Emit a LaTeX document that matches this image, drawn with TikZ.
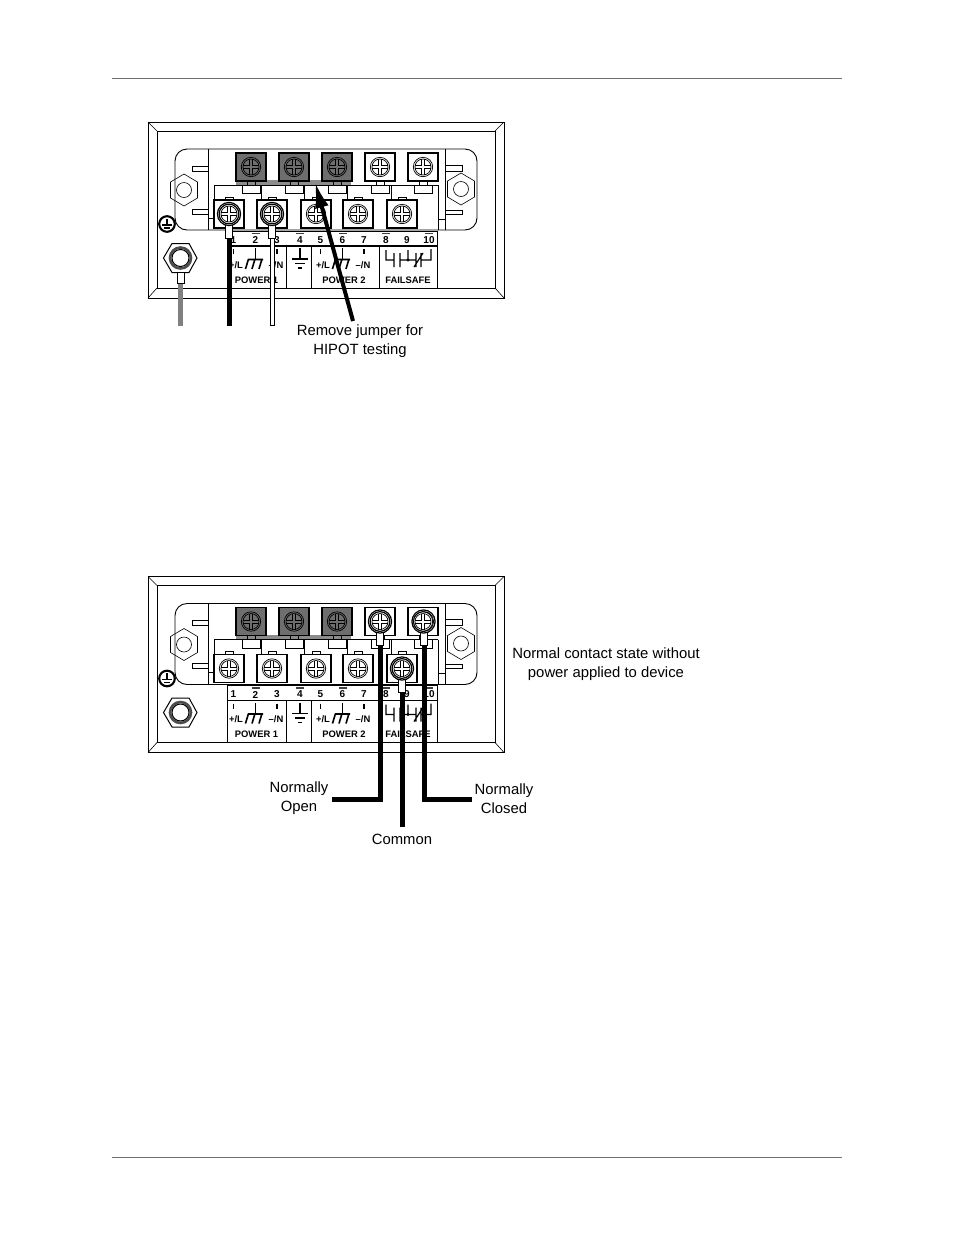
\documentclass[tikz,border=0pt]{standalone}
\usepackage{fontspec}
\setmainfont{Liberation Sans}
\usetikzlibrary{arrows.meta}
\definecolor{RuleGray}{HTML}{707070}
\definecolor{DarkScrew}{HTML}{6e6e6e}
\definecolor{WireGray}{HTML}{808080}
\definecolor{JumperGray}{HTML}{8c8c8c}
\tikzset{x=1pt, y=-1pt, every picture/.style={line width=1pt}}
\tikzstyle{lbl} = [font=\fontsize{14.85}{17}\selectfont, align=center, inner sep=0pt]
\tikzstyle{num} = [font=\fontsize{10}{10}\selectfont\bfseries, inner sep=0pt]
\tikzstyle{tiny} = [font=\fontsize{9.4}{10}\selectfont\bfseries, inner sep=0pt]
\tikzstyle{wire} = [line width=5pt, draw=black]
\tikzstyle{screwbox} = [draw=black, line width=1.1pt, minimum width=30pt, minimum height=28pt, inner sep=0pt]
\tikzstyle{lug} = [draw=black, fill=white, line width=.9pt]
% one screw terminal: name, x, y, fill
\newcommand\screwterm[4]{
\node[screwbox, fill=#4] (#1) at (#2, #3) {};
\draw[line width=.7pt] (#2, #3) circle (9.7) (#2, #3) circle (8);
\draw[line width=.7pt] (#2-8, #3-1.4) -- (#2-1.4, #3-1.4) -- (#2-1.4, #3-8)
  (#2+1.4, #3-8) -- (#2+1.4, #3-1.4) -- (#2+8, #3-1.4)
  (#2+8, #3+1.4) -- (#2+1.4, #3+1.4) -- (#2+1.4, #3+8)
  (#2-1.4, #3+8) -- (#2-1.4, #3+1.4) -- (#2-8, #3+1.4);
}
% ring lug on a screw: x, y
\newcommand\ringlug[2]{
\draw[lug] (#1-3.5, #2+11) -- (#1-3.5, #2+24) -- (#1+3.5, #2+24) -- (#1+3.5, #2+11);
\draw[line width=1.2pt] (#1, #2) circle (11.6);
\draw[line width=.9pt] (#1, #2) circle (10);
}
% the device, drawn at the top panel's coordinates
\newcommand\devicepanel[1]{
\draw (148, 122) rectangle (504, 298);
\draw (157, 131) rectangle (495, 288);
\draw[line width=.6pt] (148, 122) -- (157, 131) (504, 122) -- (495, 131)
  (148, 298) -- (157, 288) (504, 298) -- (495, 288);
\draw[rounded corners=12pt, line width=.9pt] (208, 149) -- (175, 149) -- (175, 230) -- (477, 230) -- (477, 149) -- cycle;
\draw[line width=.9pt] (208, 149) -- (208, 230) (445, 149) -- (445, 230) (438, 185) -- (438, 230);
\draw[line width=.9pt] (214, 185) -- (438, 185) (214, 185) -- (214, 199) (208, 218) -- (214, 218) (438, 219) -- (445, 219);
\foreach \xv in {261, 304, 347, 391} \draw[line width=.9pt] (\xv, 185) -- (\xv, 199);
\foreach \xv/\yv in {184/190, 461/189} {
  \draw[line width=.6pt] (\xv, \yv-16) -- (\xv+13.5, \yv-8) -- (\xv+13.5, \yv+8) -- (\xv, \yv+16) -- (\xv-13.5, \yv+8) -- (\xv-13.5, \yv-8) -- cycle;
  \draw[line width=.6pt] (\xv, \yv) circle (7.5);
}
\draw[line width=.9pt] (208, 166) -- (192, 166) -- (192, 171) -- (208, 171)
  (208, 209) -- (192, 209) -- (192, 214) -- (208, 214)
  (445, 165) -- (462, 165) -- (462, 171) -- (445, 171)
  (445, 210) -- (462, 210) -- (462, 214) -- (445, 214);
\foreach \xv in {251, 294, 337, 380, 423} {
  \draw[line width=.9pt] (\xv-9, 185) -- (\xv-9, 193.5) -- (\xv+9, 193.5) -- (\xv+9, 185);
  \draw[line width=.9pt] (\xv-4, 185) -- (\xv-4, 180) -- (\xv+4, 180) -- (\xv+4, 185);
}
\fill[JumperGray] (236, 180) rectangle (351, 184.5);
\foreach \xv in {251, 294, 337} \draw[line width=.9pt] (\xv-4, 184.5) -- (\xv-4, 180) -- (\xv+4, 180) -- (\xv+4, 184.5);
\screwterm{#1a}{251}{167}{DarkScrew}
\screwterm{#1b}{294}{167}{DarkScrew}
\screwterm{#1c}{337}{167}{DarkScrew}
\screwterm{#1d}{380}{167}{white}
\screwterm{#1e}{423}{167}{white}
\foreach \xv in {229, 272, 316, 358, 402} \draw[line width=.8pt] (\xv-4, 200) -- (\xv-4, 197) -- (\xv+4, 197) -- (\xv+4, 200);
\screwterm{#1f}{229}{214}{white}
\screwterm{#1g}{272}{214}{white}
\screwterm{#1h}{316}{214}{white}
\screwterm{#1i}{358}{214}{white}
\screwterm{#1j}{402}{214}{white}
% label strip
\draw[line width=.9pt] (227, 231) -- (437, 231) -- (437, 288) (227, 231) -- (227, 288)
  (286, 246) -- (286, 288) (311, 246) -- (311, 288) (379, 246) -- (379, 288);
\draw[line width=1.1pt] (227, 246) -- (437, 246);
\foreach \xv/\tv in {233.5/1, 255.5/2, 277/3, 300/4, 320.5/5, 342.5/6, 364/7, 386/8, 407/9, 429/10}
  \node[num] at (\xv, 240) {\tv};
\foreach \xv in {255.5, 300, 342.5, 386, 429} \draw[line width=1.2pt, black!75] (\xv-4, 233.5) -- (\xv+4, 233.5);
\foreach \xv in {233.5, 277, 320.5, 364} \draw[line width=1.4pt] (\xv, 249) -- (\xv, 254);
\foreach \xv in {236, 323} \node[tiny] at (\xv, 265) {+/L};
\foreach \xv in {276, 363} \node[tiny] at (\xv, 265) {--/N};
\foreach \xv in {255.5, 342.5} {
  \draw[line width=1.2pt] (\xv, 248) -- (\xv, 259);
  \draw[line width=1.6pt] (\xv-7.5, 259.5) -- (\xv+7.5, 259.5)
    (\xv-7, 259) -- (\xv-10, 269) (\xv-.5, 259) -- (\xv-3.5, 269) (\xv+6.5, 259) -- (\xv+3.5, 269);
}
\draw[line width=1.2pt] (300, 248) -- (300, 259);
\draw[line width=1.3pt] (292, 259) -- (308, 259) (295, 263.5) -- (305, 263.5) (298, 268) -- (302, 268);
\node[tiny] at (256.5, 280) {POWER 1};
\node[tiny] at (344, 280) {POWER 2};
\node[tiny] at (408, 280) {FAILSAFE};
% contact symbol
\draw[line width=1.2pt] (386, 250) -- (386, 260) -- (394, 260) (394, 253) -- (394, 267)
  (400, 253) -- (400, 267) (400, 260) -- (416, 260) (408, 250) -- (408, 260)
  (416, 253) -- (416, 267) (414, 267) -- (423, 253) (421, 253) -- (421, 267)
  (421, 260) -- (431, 260) -- (431, 249);
\fill (408, 260) circle (1.6);
% earth mark and stud
\draw[line width=2.1pt, fill=white] (167, 224) circle (7.8);
\draw[line width=1.5pt] (167, 218.5) -- (167, 225) (162, 225) -- (172, 225) (164.2, 228) -- (169.8, 228);
\draw[line width=1pt] (163.5, 258) -- (172, 243.5) -- (189, 243.5) -- (197, 258) -- (189, 272.5) -- (172, 272.5) -- cycle;
\draw[line width=2.6pt, black!70] (180.5, 258) circle (10.5);
\draw[line width=1pt] (180.5, 258) circle (8.5);
}
\begin{document}
\begin{tikzpicture}
\useasboundingbox (0, 0) rectangle (954, 1235);
\coordinate (hl) at (112, 78);
\coordinate (hr) at (842, 78);
\coordinate (fl) at (112, 1157);
\coordinate (fr) at (842, 1157);
\draw[RuleGray, line width=.8pt] (hl) -- (hr);
\draw[RuleGray, line width=.8pt] (fl) -- (fr);
% upper device
\devicepanel{u}
% wires of the upper device
\coordinate (ugs) at (180.5, 282);
\coordinate (ugw) at (180.5, 326);
\coordinate (ubs) at (229, 237);
\coordinate (ubw) at (229, 326);
\coordinate (uws) at (272, 237);
\coordinate (uww) at (272, 326);
\draw[wire, draw=WireGray] (ugs) -- (ugw);
\draw[lug] (177, 272.5) rectangle (184, 283);
\draw[wire] (ubs) -- (ubw);
\draw[wire] (uws) -- (uww);
\draw[white, line width=3pt] (uws) -- ([yshift=1pt]uww);
\ringlug{229}{214}
\ringlug{272}{214}
\coordinate (jtail) at (353, 321);
\coordinate (jtip) at (315, 182);
\draw[line width=4pt, -{Latex[length=26pt, width=14pt]}] (jtail) -- (jtip);
\node[lbl] (jump) at (360, 341.5) {Remove jumper for\\[2pt]HIPOT testing};
% lower device
\begin{scope}[yshift=-454.5pt]
\devicepanel{l}
\ringlug{380}{167}
\ringlug{423.5}{167}
\ringlug{402}{214}
\end{scope}
\coordinate (nos) at (380, 645);
\coordinate (noa) at (380, 799);
\coordinate (noe) at (332, 799);
\coordinate (ncs) at (424, 645);
\coordinate (nca) at (424, 799);
\coordinate (nce) at (472, 799);
\coordinate (cms) at (402, 692);
\coordinate (cme) at (402, 827);
\node[lbl] (no) at (299, 798.5) {Normally\\[2pt]Open};
\node[lbl] (nc) at (504, 799) {Normally\\[2pt]Closed};
\node[lbl] (com) at (402, 839) {Common};
\node[lbl] (state) at (606, 664) {Normal contact state without\\[2pt]power applied to device};
\draw[wire] (nos) -- (noa) -- (noe);
\draw[wire] (ncs) -- (nca) -- (nce);
\draw[wire] (cms) -- (cme);
\end{tikzpicture}
\end{document}
